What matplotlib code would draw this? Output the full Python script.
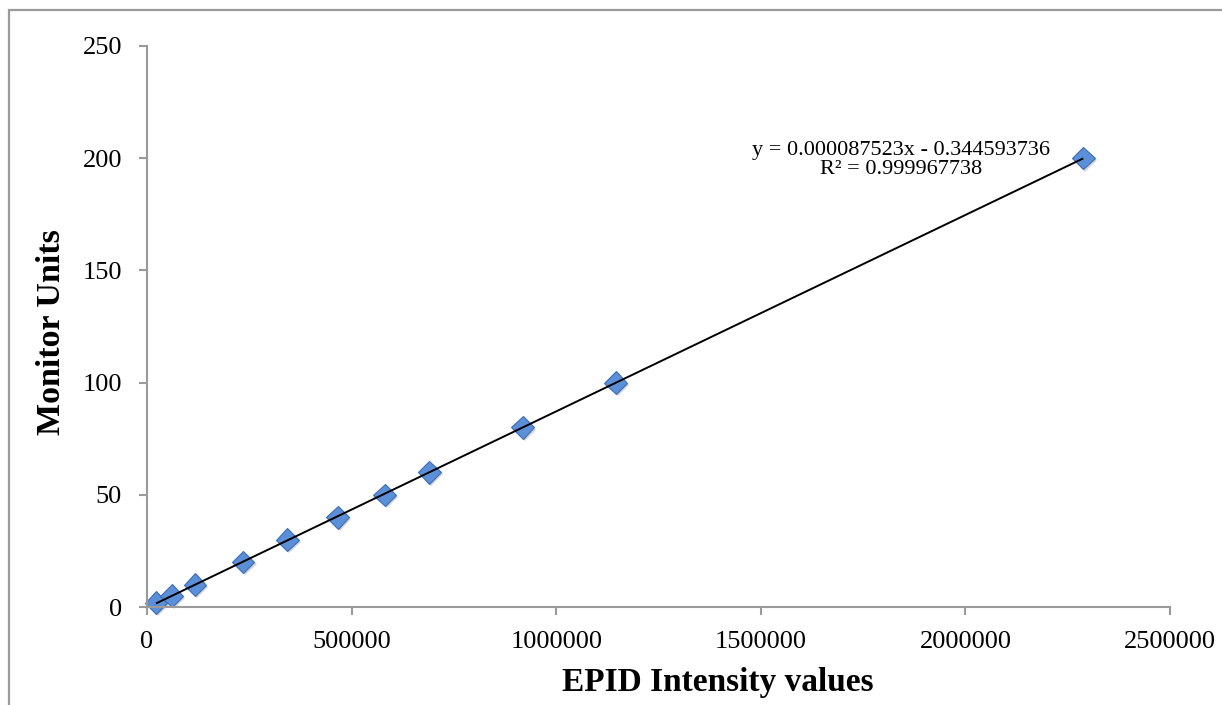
import matplotlib
matplotlib.use('Agg')
import matplotlib.pyplot as plt
import matplotlib.patheffects as pe
from matplotlib.patches import Rectangle
import numpy as np

# EPID calibration points
epid_intensity = [22000, 60500, 117000, 235000, 343000, 466000,
                  581000, 690000, 918000, 1145000, 2288000]
monitor_units = [2, 5, 10, 20, 30, 40, 50, 60, 80, 100, 200]

# linear trendline as printed on the chart
slope = 0.000087523
intercept = -0.344593736
r_squared = 0.999967738

x_ticks = [0, 500000, 1000000, 1500000, 2000000, 2500000]
y_ticks = [0, 50, 100, 150, 200, 250]

_GRAY = '#9a9a9a'
_FONT = 'Liberation Serif'

plt.rcParams['font.family'] = [_FONT, 'DejaVu Serif']

fig = plt.figure(figsize=(12.22, 7.05), dpi=100)
fig.patch.set_facecolor('white')

# chart-area border (only left and top edges fall inside the picture)
fig.patches.append(Rectangle((9 / 1222, -0.2), 1.2, 0.2 + (1 - 10 / 705),
                             transform=fig.transFigure, fill=False,
                             edgecolor=_GRAY, lw=1.6, zorder=0))

ax = fig.add_axes([147 / 1222, 1 - 607 / 705, 1023 / 1222, 561 / 705])
ax.set_xlim(0, 2500000)
ax.set_ylim(0, 250)

xs = np.array([min(epid_intensity), max(epid_intensity)])
ax.plot(xs, slope * xs + intercept, color='black', lw=1.4, zorder=3,
        solid_capstyle='butt')

ax.plot(epid_intensity, monitor_units, ls='none', marker='D', ms=11.5,
        mfc='#5b8fd8', mec='#3d6db5', mew=0.8, zorder=2, clip_on=False,
        path_effects=[pe.SimplePatchShadow(offset=(1.5, -1.5), alpha=0.25,
                                           shadow_rgbFace='#555555'),
                      pe.Normal()])

ax.set_xticks(x_ticks)
ax.set_yticks(y_ticks)
ax.set_xticklabels([str(v) for v in x_ticks])
ax.set_yticklabels([str(v) for v in y_ticks])

for side in ('top', 'right'):
    ax.spines[side].set_visible(False)
for side in ('left', 'bottom'):
    ax.spines[side].set_color(_GRAY)
    ax.spines[side].set_linewidth(1.5)

ax.tick_params(axis='both', direction='out', length=6, width=1.5,
               color=_GRAY, labelsize=19, labelcolor='black')
ax.tick_params(axis='y', pad=12)
ax.tick_params(axis='x', pad=11)

ax.set_xlabel('EPID Intensity values', fontsize=24, fontweight='bold',
              va='center')
ax.xaxis.set_label_coords((718 - 147) / 1023, (607 - 682) / 561)
ax.set_ylabel('Monitor Units', fontsize=24.5, fontweight='bold',
              va='center')
ax.yaxis.set_label_coords((52 - 147) / 1023, (607 - 332) / 561)

ax.text((901 - 147) / 1023, (607 - 160) / 561,
        f'y = {slope:.9f}x - {abs(intercept):.9f}\nR\u00b2 = {r_squared:.9f}',
        transform=ax.transAxes, ha='center', va='center',
        multialignment='center', fontsize=16, linespacing=1.0)

fig.savefig('out.png', dpi=100, facecolor='white')
